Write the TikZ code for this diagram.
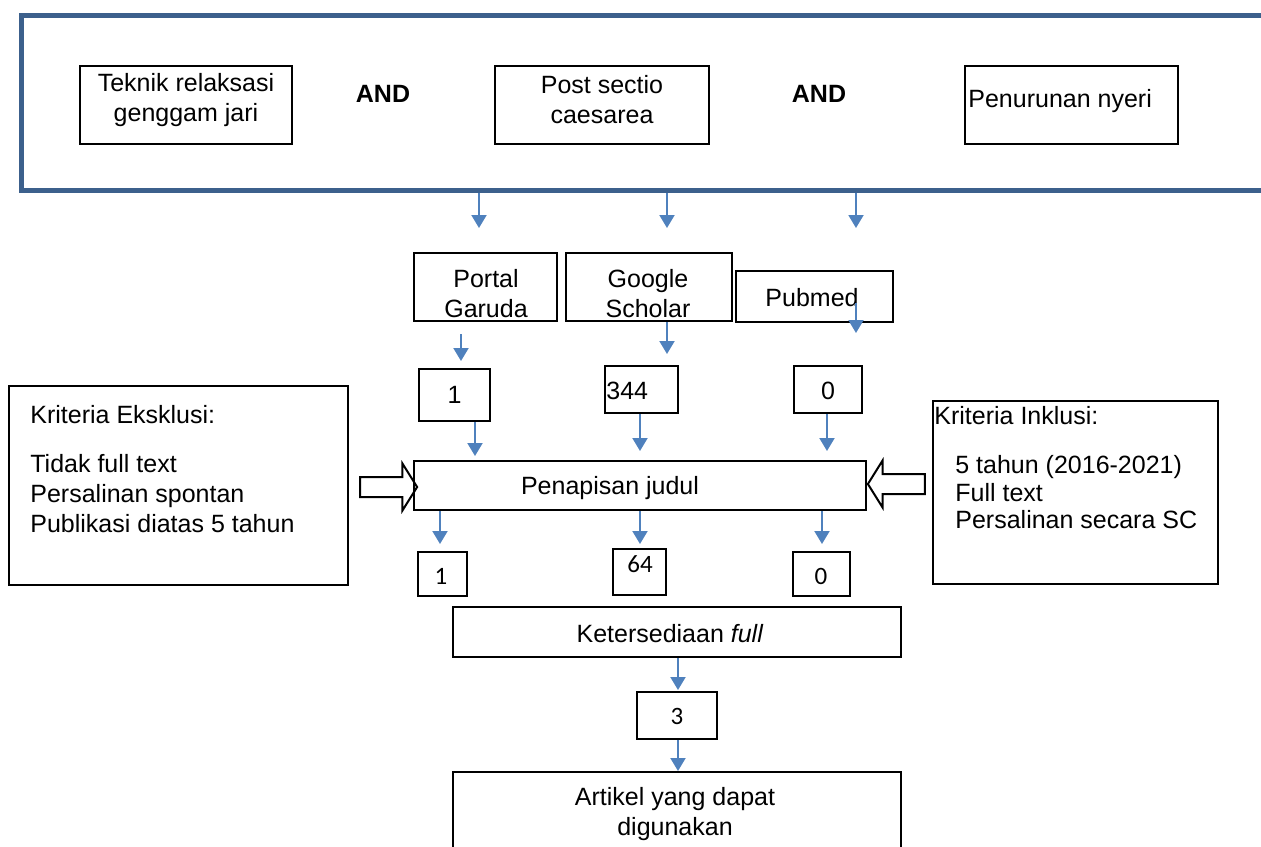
\documentclass[tikz,border=0pt]{standalone}
\usepackage{fontspec}
\setmainfont{Liberation Sans}
\newfontfamily\numfont{Carlito}
\usetikzlibrary{arrows.meta,shapes.arrows}
\definecolor{frameblue}{RGB}{60,96,140}
\definecolor{flowblue}{RGB}{79,129,189}

\tikzset{
  box/.style={rectangle, draw, line width=1pt, inner sep=0pt},
  txt/.style={inner sep=0pt, font=\fontsize{12.5}{15}\selectfont},
  num/.style={inner sep=0pt, font=\numfont\fontsize{12.5}{14}\selectfont},
  flow/.style={draw=flowblue, line width=1pt, -{Triangle[width=7.5pt,length=6.5pt]}},
  fatarrow/.style={single arrow, draw, line width=1pt, inner sep=4.5pt,
    single arrow head extend=6.75pt, single arrow tip angle=116,
    minimum height=28.5pt}
}

\begin{document}
\begin{tikzpicture}[x=0.5pt,y=-0.5pt]
  \clip (0,0) rectangle (1261,846);

  % keywords
  \node[rectangle, draw=frameblue, line width=2.5pt,
        minimum width=627pt, minimum height=87.5pt] (frame) at (648,102.5) {};

  \node[box, minimum width=106pt, minimum height=39pt] (teknik) at (186,105) {};
  \node[txt, align=center] at (186,100) {Teknik relaksasi\\genggam jari};

  \node[txt, font=\fontsize{12.5}{15}\selectfont\bfseries] (and1) at (383,94) {AND};

  \node[box, minimum width=107pt, minimum height=39pt] (post) at (602,105) {};
  \node[txt, align=center] at (602,100) {Post sectio\\caesarea};

  \node[txt, font=\fontsize{12.5}{15}\selectfont\bfseries] (and2) at (819,94) {AND};

  \node[box, minimum width=106.5pt, minimum height=39pt] (nyeri) at (1071.5,105) {};
  \node[txt, anchor=west] at (968,101) {Penurunan nyeri};

  % databases
  \coordinate (q1) at (479,228);
  \coordinate (q2) at (667,228);
  \coordinate (q3) at (856,228);
  \draw[flow] (frame.south -| q1) -- (q1);
  \draw[flow] (frame.south -| q2) -- (q2);
  \draw[flow] (frame.south -| q3) -- (q3);

  \node[box, minimum width=71.5pt, minimum height=34pt] (garuda) at (485.5,287) {};
  \node[txt, align=center] at (486,294) {Portal\\Garuda};

  \node[box, minimum width=83pt, minimum height=34pt] (scholar) at (649,287) {};
  \node[txt, align=center] at (648,294) {Google\\Scholar};

  \node[box, minimum width=78.5pt, minimum height=25.5pt] (pubmed) at (814.5,296.5) {};
  \node[txt] at (812,298) {Pubmed};

  % hits
  \node[box, minimum width=35.5pt, minimum height=26pt] (hit1) at (454.5,395) {};
  \node[txt] at (454.5,395) {1};

  \node[box, minimum width=36.5pt, minimum height=23.5pt] (hit2) at (641.5,389.5) {};
  \node[txt, anchor=west] at (606,391) {344};

  \node[box, minimum width=34pt, minimum height=23.5pt] (hit3) at (828,389.5) {};
  \node[txt] at (828,391) {0};

  \coordinate (p1) at (856,303);
  \coordinate (p2) at (856,333);
  \draw[flow, shorten <=6pt, shorten >=3.5pt] (garuda.south -| 461,0) -- (hit1.north -| 461,0);
  \draw[flow, shorten >=5.5pt] (scholar.south -| 667,0) -- (hit2.north -| 667,0);
  \draw[flow] (p1) -- (p2);

  % screening
  \node[box, minimum width=226pt, minimum height=24.5pt] (judul) at (640,485.5) {};
  \node[txt] at (610,488) {Penapisan judul};

  \draw[flow, shorten >=2pt] (hit1.south -| 475,0) -- (judul.north -| 475,0);
  \draw[flow, shorten >=4.5pt] (hit2.south -| 640,0) -- (judul.north -| 640,0);
  \draw[flow, shorten >=4.5pt] (hit3.south -| 827,0) -- (judul.north -| 827,0);

  \node[box, minimum width=169.5pt, minimum height=99.5pt] (ekskl) at (178.5,485.5) {};
  \node[txt, anchor=north west, align=left] at (30,405)
    {Kriteria Eksklusi:\\[9.5pt]Tidak full text\\Persalinan spontan\\Publikasi diatas 5 tahun};

  \node[box, minimum width=142.5pt, minimum height=91.5pt] (inkl) at (1075.5,492.5) {};
  \node[txt, anchor=north west] at (934,406) {Kriteria Inklusi:};
  \node[txt, anchor=north west, align=left, font=\fontsize{12.5}{13.8}\selectfont] at (955,455)
    {5 tahun (2016-2021)\\Full text\\Persalinan secara SC};

  \node[fatarrow] (exarrow) at (385.5,487) {};
  \node[fatarrow, shape border rotate=180] (inarrow) at (899.5,484) {};

  % after screening
  \node[box, minimum width=24.5pt, minimum height=22pt] (left1) at (442.5,574) {};
  \node[num] at (441,576) {1};

  \node[box, minimum width=26.5pt, minimum height=23pt] (mid64) at (639.5,572) {};
  \node[num] at (640,564) {64};

  \node[box, minimum width=28.5pt, minimum height=22pt] (right0) at (821.5,574) {};
  \node[num] at (821,576) {0};

  \draw[flow, shorten >=3.5pt] (judul.south -| 440,0) -- (left1.north -| 440,0);
  \draw[flow, shorten >=2pt] (judul.south -| 640,0) -- (mid64.north -| 640,0);
  \draw[flow, shorten >=3.5pt] (judul.south -| 822,0) -- (right0.north -| 822,0);

  % full text
  \node[box, minimum width=224pt, minimum height=25pt] (tersedia) at (677,632) {};
  \node[txt] at (670,634) {Ketersediaan \textit{full}};

  \node[box, minimum width=40pt, minimum height=23.5pt] (final3) at (677,715.5) {};
  \node[num] at (677,716) {3};

  \node[box, minimum width=224pt, minimum height=44pt] (artikel) at (677,816) {};
  \node[txt, align=center] at (675,814) {Artikel yang dapat\\digunakan};

  \draw[flow, shorten >=0.5pt] (tersedia.south -| 678,0) -- (final3.north -| 678,0);
  \draw[flow] (final3.south -| 678,0) -- (artikel.north -| 678,0);

\end{tikzpicture}
\end{document}
